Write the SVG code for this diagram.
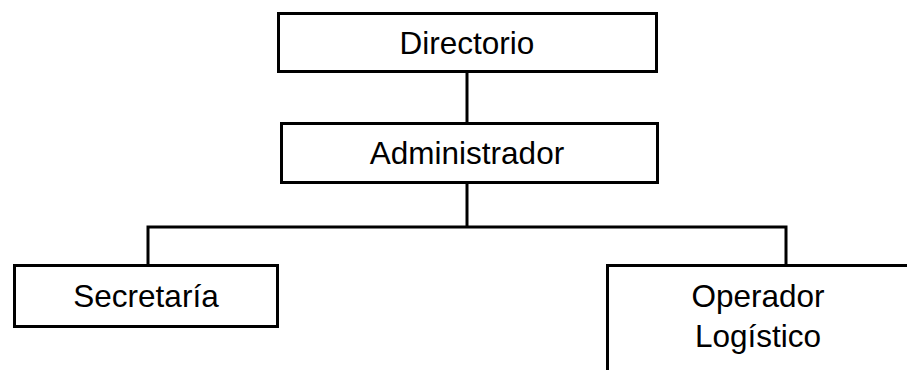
<svg xmlns="http://www.w3.org/2000/svg" width="907" height="370" viewBox="0 0 907 370">
<style>
.box{fill:#fff;stroke:#000;stroke-width:3}
.lbl{font-family:"Liberation Sans",Arial,sans-serif;font-size:31.5px;fill:#000;text-anchor:middle}
.conn{fill:none;stroke:#000;stroke-width:3}
</style>
<rect width="907" height="370" fill="#fff"/>
<g id="connectors">
<line class="conn" x1="467" y1="71" x2="467" y2="122"/>
<line class="conn" x1="467" y1="183" x2="467" y2="227"/>
<polyline class="conn" points="148,265 148,227 786,227 786,265"/>
</g>
<g id="directorio">
<rect class="box" x="278.5" y="13.5" width="378" height="58"/>
<text class="lbl" x="467" y="54">Directorio</text>
</g>
<g id="administrador">
<rect class="box" x="281.5" y="123.5" width="376" height="59"/>
<text class="lbl" x="467" y="164">Administrador</text>
</g>
<g id="secretaria">
<rect class="box" x="14.5" y="265.5" width="263" height="61"/>
<text class="lbl" x="146" y="307">Secretaría</text>
</g>
<g id="operador">
<rect class="box" x="607.5" y="265.5" width="320" height="130"/>
<text class="lbl" x="758" y="307">Operador</text>
<text class="lbl" x="758" y="347">Logístico</text>
</g>
</svg>
